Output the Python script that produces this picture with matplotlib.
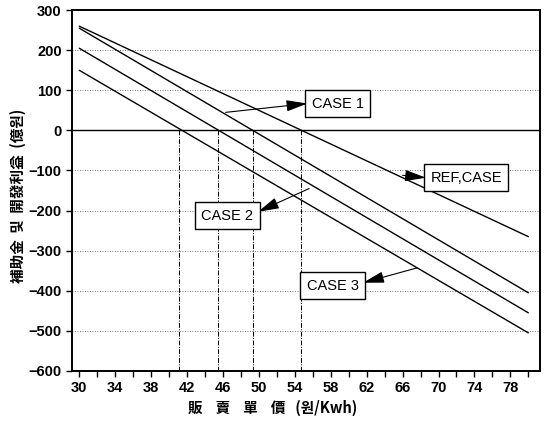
import matplotlib
matplotlib.use("Agg")
import matplotlib.pyplot as plt
from matplotlib.ticker import MultipleLocator

# price (won/kWh) at line ends, and subsidy / profit (100M won)
price = [30, 80]
ref_case = [260, -265]
case_1 = [255, -405]
case_2 = [205, -455]
case_3 = [150, -505]

# zero crossings marked with vertical dash-dot lines
break_even = [41.1, 45.4, 49.3, 54.7]

y_ticks = [300, 200, 100, 0, -100, -200, -300, -400, -500, -600]
x_ticks = [30, 34, 38, 42, 46, 50, 54, 58, 62, 66, 70, 74, 78]

cjk = ["Noto Sans CJK KR", "DejaVu Sans"]
num_font = "Liberation Sans"

fig = plt.figure(figsize=(5.46, 4.22), dpi=100)
ax = fig.add_axes([0.132, 0.121, 0.857, 0.855])

for vals in (ref_case, case_1, case_2, case_3):
    ax.plot(price, vals, color="black", lw=1.0, solid_capstyle="round")

# dotted horizontal grid, solid zero line
for y in y_ticks:
    if y == 0:
        ax.axhline(0, color="black", lw=1.0)
    elif y not in (300, -600):
        ax.axhline(y, color="black", lw=0.6, ls=(0, (1, 2)), alpha=0.7)

for x in break_even:
    ax.plot([x, x], [0, -600], color="black", lw=0.7, ls=(0, (5, 1.5, 1, 1.5)))

ax.set_xlim(29.2, 81.3)
ax.set_ylim(-600, 300)
ax.set_yticks(y_ticks)
ax.xaxis.set_minor_locator(MultipleLocator(2))
ax.set_xticks(x_ticks)
ax.tick_params(axis="both", which="both", direction="out", length=4, width=1.0)
for lab in ax.get_xticklabels() + ax.get_yticklabels():
    lab.set_fontfamily(num_font)
    lab.set_fontweight("bold")
    lab.set_fontsize(10.5)
for s in ax.spines.values():
    s.set_linewidth(1.4)

box = dict(boxstyle="square,pad=0.45", fc="white", ec="black", lw=1.0)
arrow = dict(arrowstyle="-|>,head_length=1.3,head_width=0.35", color="black", lw=0.8,
             shrinkA=0, shrinkB=0)
box_font = dict(fontsize=10.5, family=num_font, va="center", bbox=box)

# CASE 1: arrow from line to box
ax.annotate("", xy=(55.4, 67), xytext=(46.3, 45), arrowprops=arrow)
ax.text(55.9, 67, "CASE 1", ha="left", **box_font)

# REF,CASE
ax.annotate("", xy=(68.6, -118), xytext=(66.0, -112), arrowprops=arrow)
ax.text(69.1, -118, "REF,CASE", ha="left", **box_font)

# CASE 2
ax.annotate("", xy=(49.9, -203), xytext=(55.6, -145), arrowprops=arrow)
ax.text(49.4, -213, "CASE 2", ha="right", **box_font)

# CASE 3
ax.annotate("", xy=(61.6, -380), xytext=(67.6, -343), arrowprops=arrow)
ax.text(61.1, -387, "CASE 3", ha="right", **box_font)

fig.text(0.033, 0.535, "補助金  및  開發利益  (億원)", rotation=90, ha="center", va="center",
         fontsize=10.5, fontweight="bold", family=cjk)
fig.text(0.5, 0.033, "販    賣    單    價   (원/Kwh)", ha="center", va="center",
         fontsize=10.5, fontweight="bold", family=cjk)

fig.savefig("out.png", dpi=100)
plt.close(fig)
